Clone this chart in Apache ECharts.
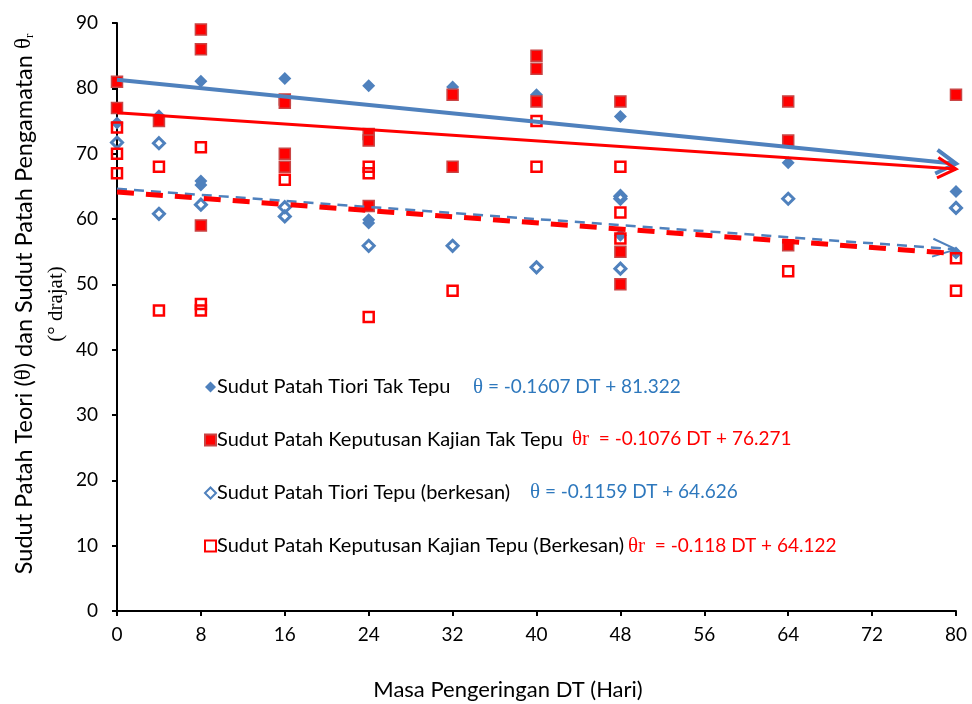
<!DOCTYPE html>
<html>
<head>
<meta charset="utf-8">
<script src="https://cdn.jsdelivr.net/npm/echarts@6/dist/echarts.min.js"></script>
<style>
  html, body { margin: 0; padding: 0; background: #ffffff; }
  #chart { width: 972px; height: 704px; }
</style>
</head>
<body>
<div id="chart"></div>
<script>
// Drying time (days) axis and angle axis ticks
const dtTicks = [0, 8, 16, 24, 32, 40, 48, 56, 64, 72, 80];
const angleTicks = [0, 10, 20, 30, 40, 50, 60, 70, 80, 90];

const seriesNames = [
  'Sudut Patah Tiori Tak Tepu',
  'Sudut Patah Keputusan Kajian Tak Tepu',
  'Sudut Patah Tiori Tepu (berkesan)',
  'Sudut Patah Keputusan Kajian Tepu (Berkesan)'
];

// [DT (hari), sudut (darjah)]
const tioriTakTepu = [
  [0, 74.7], [4, 75.8], [8, 81.1], [8, 65.8], [8, 65.2], [16, 81.5],
  [24, 80.4], [24, 59.9], [24, 59.4], [32, 80.2], [40, 79.0], [48, 75.7],
  [48, 57.5], [64, 68.6], [80, 64.2], [80, 54.8]
];
const kajianTakTepu = [
  [0, 81], [0, 77], [4, 75], [8, 89], [8, 86], [8, 59],
  [16, 78.3], [16, 77.8], [16, 70], [16, 68], [24, 73], [24, 72], [24, 62],
  [32, 79], [32, 68], [40, 85], [40, 83], [40, 78],
  [48, 78], [48, 55], [48, 50], [64, 78], [64, 72], [64, 56], [80, 79]
];
const tioriTepu = [
  [0, 71.7], [4, 71.6], [4, 60.8], [8, 62.2], [16, 61.8], [16, 60.4],
  [24, 55.9], [32, 55.9], [40, 52.6], [48, 63.5], [48, 63.1], [48, 52.4],
  [64, 63.1], [80, 61.7]
];
const kajianTepu = [
  [0, 74], [0, 70], [0, 67], [4, 68], [4, 46], [8, 71], [8, 47], [8, 46],
  [16, 66], [24, 68], [24, 67], [24, 45], [32, 49], [40, 75], [40, 68],
  [48, 68], [48, 61], [48, 57], [64, 52], [80, 54], [80, 49]
];

// Linear fits: angle = slope * DT + intercept
const fitSlope = [-0.1607, -0.1076, -0.1159, -0.118];
const fitIntercept = [81.322, 76.271, 64.626, 64.122];
const fitSymbol = ['θ', 'θr', 'θ', 'θr'];
const fitText = [' = -0.1607 DT + 81.322', '  = -0.1076 DT + 76.271', ' = -0.1159 DT + 64.626', '  = -0.118 DT + 64.122'];

const BLUE = '#4f81bd';
const RED = '#ff0000';
const EQ_BLUE = '#2e78bd';
const FONT = 'Lato';

const dtMin = dtTicks[0], dtMax = dtTicks[dtTicks.length - 1];

// Styling of each fitted line: colour, width, dash, arrow head (length, half-angle, stroke)
const fitStyles = [
  { color: BLUE, width: 4, dash: null, arrow: { len: 23, ang: 31, width: 4 } },
  { color: RED, width: 3, dash: null, arrow: { len: 21, ang: 29, width: 3 } },
  { color: BLUE, width: 2.5, dash: [10, 7], arrow: { len: 25, ang: 21, width: 2 } },
  { color: RED, width: 5, dash: [17, 12], arrow: null }
];

function fitSeries(i) {
  const y0 = fitIntercept[i];
  const y1 = fitSlope[i] * dtMax + fitIntercept[i];
  const st = fitStyles[i];
  return {
    type: 'custom',
    z: 5 + i,
    silent: true,
    encode: { x: [0, 2], y: [1, 3] },
    data: [[dtMin, y0, dtMax, y1]],
    renderItem: function (params, api) {
      const p0 = api.coord([api.value(0), api.value(1)]);
      const p1 = api.coord([api.value(2), api.value(3)]);
      const children = [{
        type: 'line',
        shape: { x1: p0[0], y1: p0[1], x2: p1[0], y2: p1[1] },
        style: { stroke: st.color, lineWidth: st.width, lineDash: st.dash || null, fill: null }
      }];
      if (st.arrow) {
        const a = Math.atan2(p1[1] - p0[1], p1[0] - p0[0]);
        const h = st.arrow.ang * Math.PI / 180;
        const L = st.arrow.len;
        const pa = [p1[0] - L * Math.cos(a - h), p1[1] - L * Math.sin(a - h)];
        const pb = [p1[0] - L * Math.cos(a + h), p1[1] - L * Math.sin(a + h)];
        children.push({
          type: 'polyline',
          shape: { points: [pa, p1, pb] },
          style: { stroke: st.color, lineWidth: st.arrow.width, fill: null, lineJoin: 'miter' }
        });
      }
      return { type: 'group', children: children };
    }
  };
}

const chart = echarts.init(document.getElementById('chart'));

chart.setOption({
  backgroundColor: '#ffffff',
  animation: false,
  grid: { left: 117, right: 16, top: 23, bottom: 93, containLabel: false },
  xAxis: {
    type: 'value', min: dtMin, max: dtMax, interval: dtTicks[1] - dtTicks[0],
    splitLine: { show: false },
    axisLine: { onZero: false, lineStyle: { color: '#000', width: 2 } },
    axisTick: { inside: false, length: 5, lineStyle: { color: '#000', width: 2 } },
    axisLabel: { color: '#000', fontFamily: FONT, fontSize: 19, margin: 14 }
  },
  yAxis: {
    type: 'value', min: angleTicks[0], max: angleTicks[angleTicks.length - 1],
    interval: angleTicks[1] - angleTicks[0],
    splitLine: { show: false },
    axisLine: { show: true, lineStyle: { color: '#000', width: 2 } },
    axisTick: { show: true, inside: false, length: 5, lineStyle: { color: '#000', width: 2 } },
    axisLabel: { color: '#000', fontFamily: FONT, fontSize: 19, margin: 19 }
  },
  legend: {
    orient: 'vertical', left: 199, top: 372,
    itemWidth: 11, itemHeight: 11, itemGap: 33,
    data: seriesNames,
    textStyle: { color: '#000', fontFamily: FONT, fontSize: 20, lineHeight: 20, padding: [0, 0, 0, -4] }
  },
  series: [
    {
      type: 'scatter', z: 3,
      name: seriesNames[0], data: tioriTakTepu, symbol: 'diamond', symbolSize: [13, 13],
      itemStyle: { color: BLUE, borderWidth: 0, opacity: 1 }
    },
    {
      type: 'scatter', z: 3,
      name: seriesNames[1], data: kajianTakTepu, symbol: 'rect', symbolSize: 11,
      itemStyle: { color: RED, borderColor: '#c94545', borderWidth: 1.5, opacity: 1 }
    },
    {
      type: 'scatter', z: 3,
      name: seriesNames[2], data: tioriTepu, symbol: 'diamond', symbolSize: [11, 11],
      itemStyle: { color: 'rgba(255,255,255,0)', borderColor: BLUE, borderWidth: 3, opacity: 1 }
    },
    {
      type: 'scatter', z: 3,
      name: seriesNames[3], data: kajianTepu, symbol: 'rect', symbolSize: 10,
      itemStyle: { color: 'rgba(255,255,255,0)', borderColor: RED, borderWidth: 2.5, opacity: 1 }
    },
    fitSeries(0), fitSeries(1), fitSeries(2), fitSeries(3)
  ],
  graphic: [
    // y-axis title
    {
      type: 'text', x: 24, y: 304, rotation: Math.PI / 2,
      style: {
        text: '{a|Sudut Patah Teori (}{s|θ}{a|) dan Sudut Patah Pengamatan }{s|θ}{sub|r}',
        align: 'center', verticalAlign: 'middle',
        rich: {
          a: { fontFamily: FONT, fontSize: 23.5, fill: '#000', lineHeight: 28 },
          s: { fontFamily: 'Liberation Serif', fontSize: 23, fill: '#000', lineHeight: 28 },
          sub: { fontFamily: 'Liberation Serif', fontSize: 13, fill: '#000', lineHeight: 28, padding: [11, 0, 0, 0] }
        }
      }
    },
    {
      type: 'text', x: 56, y: 304, rotation: Math.PI / 2,
      style: {
        text: '(° drajat)', align: 'center', verticalAlign: 'middle',
        fontFamily: 'Liberation Serif', fontSize: 21, fill: '#000'
      }
    },
    // x-axis title
    {
      type: 'text', x: 508, y: 690,
      style: {
        text: 'Masa Pengeringan DT (Hari)', align: 'center', verticalAlign: 'middle',
        fontFamily: FONT, fontSize: 22, fill: '#000'
      }
    }
  ].concat(fitText.map((t, i) => ({
    type: 'text',
    x: [473, 572, 530, 628][i],
    y: [387, 439, 492, 546][i],
    style: {
      text: '{s|' + fitSymbol[i] + '}{n|' + t + '}',
      verticalAlign: 'middle', align: 'left',
      rich: {
        s: { fontFamily: 'Liberation Serif', fontSize: 21, fill: i % 2 ? RED : EQ_BLUE },
        n: { fontFamily: FONT, fontSize: 19, fill: i % 2 ? RED : EQ_BLUE }
      }
    }
  })))
});
</script>
</body>
</html>
